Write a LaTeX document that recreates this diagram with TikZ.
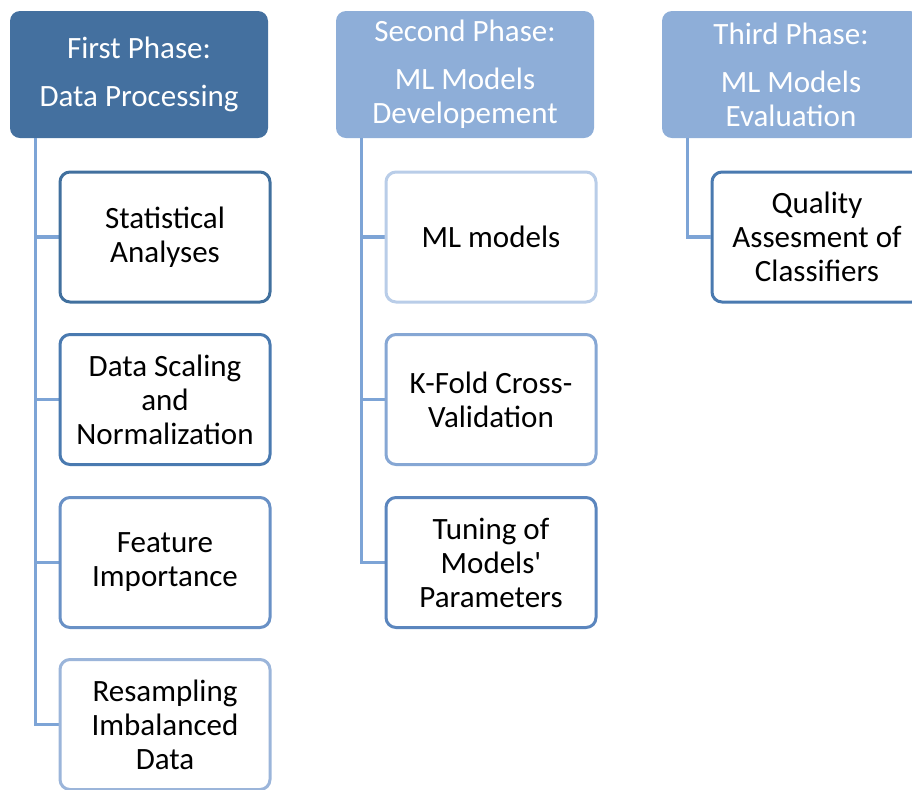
\documentclass[tikz,border=0pt]{standalone}
\usepackage{fontspec}
\setmainfont{Carlito}[Ligatures=TeXOff]
\definecolor{phaseDark}{HTML}{44709F}
\definecolor{phaseLight}{HTML}{8EAED8}
\definecolor{linkBlue}{HTML}{7DA4D6}
\definecolor{edgeA}{HTML}{41709E}
\definecolor{edgeB}{HTML}{4A7AB0}
\definecolor{edgeC}{HTML}{6991C6}
\definecolor{edgeD}{HTML}{9BB5DA}
\definecolor{edgeE}{HTML}{B9CDE8}
\definecolor{edgeF}{HTML}{86A7D4}
\definecolor{edgeG}{HTML}{5B86BE}
\begin{document}
\begin{tikzpicture}[x=0.5pt, y=-0.5pt,
    phase/.style={rounded corners=5pt, minimum width=129pt, minimum height=63.5pt,
      inner sep=0pt, align=center, text=white, font=\fontsize{15.5}{17}\selectfont},
    task/.style={draw, line width=1.5pt, fill=white, rounded corners=5pt,
      minimum width=105pt, minimum height=65pt, inner sep=0pt, align=center,
      font=\fontsize{15.5}{17}\selectfont},
    link/.style={draw=linkBlue, line width=1.8pt}]
  \clip (0,0) rectangle (912,789);
  % the three phases
  \node[phase, fill=phaseDark] (first) at (139,74.5) {First Phase:\\[7pt]Data Processing};
  \node[phase, fill=phaseLight] (second) at (465,74.5) {Second Phase:\\[7pt]ML Models\\Developement};
  \node[phase, fill=phaseLight] (third) at (791,74.5) {Third Phase:\\[7pt]ML Models\\Evaluation};
  % tasks of the first phase
  \foreach \name/\y/\col/\txt in {stat/237/edgeA/{Statistical\\Analyses},
      scale/399.5/edgeB/{Data Scaling\\and\\Normalization},
      feat/562.5/edgeC/{Feature\\Importance},
      resamp/724.5/edgeD/{Resampling\\Imbalanced\\Data}} {
    \draw[link] ([xshift=13pt]first.south west) |- (165,\y);
    \node[task, draw=\col] (\name) at (165,\y) {\txt};
  }
  % tasks of the second phase
  \foreach \name/\y/\col/\txt in {models/237/edgeE/{ML models},
      kfold/399.5/edgeF/{K-Fold Cross-\\Validation},
      tuning/562.5/edgeG/{Tuning of\\Models'\\Parameters}} {
    \draw[link] ([xshift=13pt]second.south west) |- (491,\y);
    \node[task, draw=\col] (\name) at (491,\y) {\txt};
  }
  % task of the third phase
  \node[task, draw=edgeB] (quality) at (817,237) {Quality\\Assesment of\\Classifiers};
  \draw[link] ([xshift=13pt]third.south west) |- (quality.west);
\end{tikzpicture}
\end{document}
